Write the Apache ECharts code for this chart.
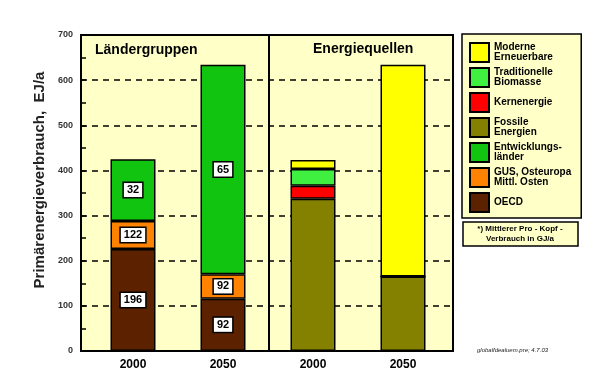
<!DOCTYPE html>
<html><head><meta charset="utf-8">
<script src="https://cdn.jsdelivr.net/npm/echarts@6/dist/echarts.min.js"></script>
<style>html,body{margin:0;padding:0;background:#fff}#c{width:603px;height:382px}</style>
</head><body><div id="c"></div>
<script>
const categories = ['2000', '2050', '2000', '2050'];
const yTicks = [0, 100, 200, 300, 400, 500, 600, 700];
// Ländergruppen (EJ/a)
const oecd = [226, 116, '-', '-'];
const gus = [62, 54, '-', '-'];
const entw = [137, 464, '-', '-'];
// Pro-Kopf-Verbrauch (GJ/a) labels
const oecdLbl = ['196', '92'];
const gusLbl = ['122', '92'];
const entwLbl = ['32', '65'];
const totalLbl = ['70*)', '70'];
// Energiequellen (EJ/a)
const fossil = ['-', '-', 337, 165];
const kern = ['-', '-', 29, 0];
const biomasse = ['-', '-', 37, 0];
const modern = ['-', '-', 20, 469];

const FONT = '"Liberation Sans", Arial, sans-serif';
const totals = categories.map((c, i) => i < 2 ? oecd[i] + gus[i] + entw[i] : '-');

const boxLabel = (arr) => ({
  show: true, position: 'inside',
  formatter: p => arr[p.dataIndex] || '',
  backgroundColor: '#fff', borderColor: '#000', borderWidth: 1.5,
  padding: [2, 3, 1, 3], color: '#000', fontWeight: 'bold', fontSize: 11, fontFamily: FONT
});
const bar = (name, data, color, lbl) => ({
  name, type: 'bar', stack: 'a', xAxisIndex: 1, yAxisIndex: 1, data, barWidth: 45,
  itemStyle: { color, borderColor: '#000', borderWidth: 1.5 },
  label: lbl ? boxLabel(lbl) : { show: false },
  emphasis: { disabled: true }
});

const chart = echarts.init(document.getElementById('c'));
chart.setOption({
  animation: false,
  textStyle: { fontFamily: FONT },
  grid: [
    { left: 81, width: 372, top: 35, height: 316, show: true, backgroundColor: '#FFFFC8', borderColor: '#000', borderWidth: 2 },
    { left: 88, width: 360, top: 35, height: 316 }
  ],
  xAxis: [
    { gridIndex: 0, type: 'value', min: 0, max: 1, show: false },
    { gridIndex: 1, type: 'category', data: categories,
      axisLine: { show: false }, axisTick: { show: false },
      axisLabel: { color: '#000', fontWeight: 'bold', fontSize: 12, margin: 8, fontFamily: FONT },
      splitLine: { show: false } }
  ],
  yAxis: [
    { gridIndex: 0, type: 'value', min: yTicks[0], max: yTicks[yTicks.length - 1], interval: 100,
      name: 'Primärenergieverbrauch,  EJ/a', nameLocation: 'middle', nameGap: 21,
      nameTextStyle: { color: '#222', fontWeight: 'bold', fontSize: 15, fontFamily: FONT, padding: [0, 0, 0, 26] },
      axisLine: { show: true, lineStyle: { color: '#000', width: 2 } },
      axisTick: { show: true, inside: true, length: 5, lineStyle: { color: '#000', width: 1.5 } },
      minorTick: { show: true, splitNumber: 2, length: 5, lineStyle: { color: '#000', width: 1.5 } },
      axisLabel: { color: '#333', fontWeight: 'bold', fontSize: 9, margin: 8, fontFamily: FONT },
      splitLine: { show: true, lineStyle: { color: '#000', width: 1.5, type: [6, 5] } } },
    { gridIndex: 1, type: 'value', min: 0, max: 700, show: false, splitLine: { show: false } }
  ],
  legend: {
    orient: 'vertical', left: 462, top: 34, icon: 'rect',
    padding: [8, 10, 5, 7], itemGap: 4, itemWidth: 19, itemHeight: 19,
    backgroundColor: '#FFFFC8', borderColor: '#000', borderWidth: 1.5,
    textStyle: { color: '#000', fontWeight: 'bold', fontSize: 10, lineHeight: 10, fontFamily: FONT },
    selectedMode: false,
    data: ['Moderne\nErneuerbare', 'Traditionelle\nBiomasse', 'Kernenergie', 'Fossile\nEnergien',
           'Entwicklungs-\nländer', 'GUS, Osteuropa\nMittl. Osten', 'OECD']
  },
  graphic: [
    { type: 'line', shape: { x1: 269, y1: 35, x2: 269, y2: 351 }, style: { stroke: '#000', lineWidth: 2 }, z: 1 },
    { type: 'text', left: 95, top: 43, style: { text: 'Ländergruppen', font: 'bold 14px ' + FONT, fill: '#000' } },
    { type: 'text', left: 313, top: 42, style: { text: 'Energiequellen', font: 'bold 14px ' + FONT, fill: '#000' } },
    { type: 'rect', shape: { x: 463, y: 222, width: 115, height: 24 }, style: { fill: '#FFFFC8', stroke: '#000', lineWidth: 1.5 } },
    { type: 'text', x: 520, y: 224, style: { text: '*) Mittlerer Pro - Kopf -\nVerbrauch in GJ/a', font: 'bold 8px ' + FONT, fill: '#000', align: 'center', lineHeight: 10 } },
    { type: 'text', x: 477, y: 347, style: { text: 'globalfdealuem.pre; 4.7.03', font: 'italic 6px ' + FONT, fill: '#222' } }
  ],
  series: [
    bar('OECD', oecd, '#5C2200', oecdLbl),
    bar('GUS, Osteuropa\nMittl. Osten', gus, '#FF8200', gusLbl),
    bar('Entwicklungs-\nländer', entw, '#10C410', entwLbl),
    bar('Fossile\nEnergien', fossil, '#848000'),
    bar('Kernenergie', kern, '#FF0000'),
    bar('Traditionelle\nBiomasse', biomasse, '#40F040'),
    bar('Moderne\nErneuerbare', modern, '#FFFF00'),
    { type: 'scatter', xAxisIndex: 1, yAxisIndex: 1, data: totals, symbolSize: 1, itemStyle: { opacity: 0 },
      label: { show: true, position: 'top', distance: 5, formatter: p => totalLbl[p.dataIndex] || '',
        backgroundColor: '#fff', borderColor: '#000', borderWidth: 1.5, padding: [2, 3, 1, 3],
        color: '#000', fontWeight: 'bold', fontSize: 11, fontFamily: FONT }, emphasis: { disabled: true } }
  ]
});
</script></body></html>
